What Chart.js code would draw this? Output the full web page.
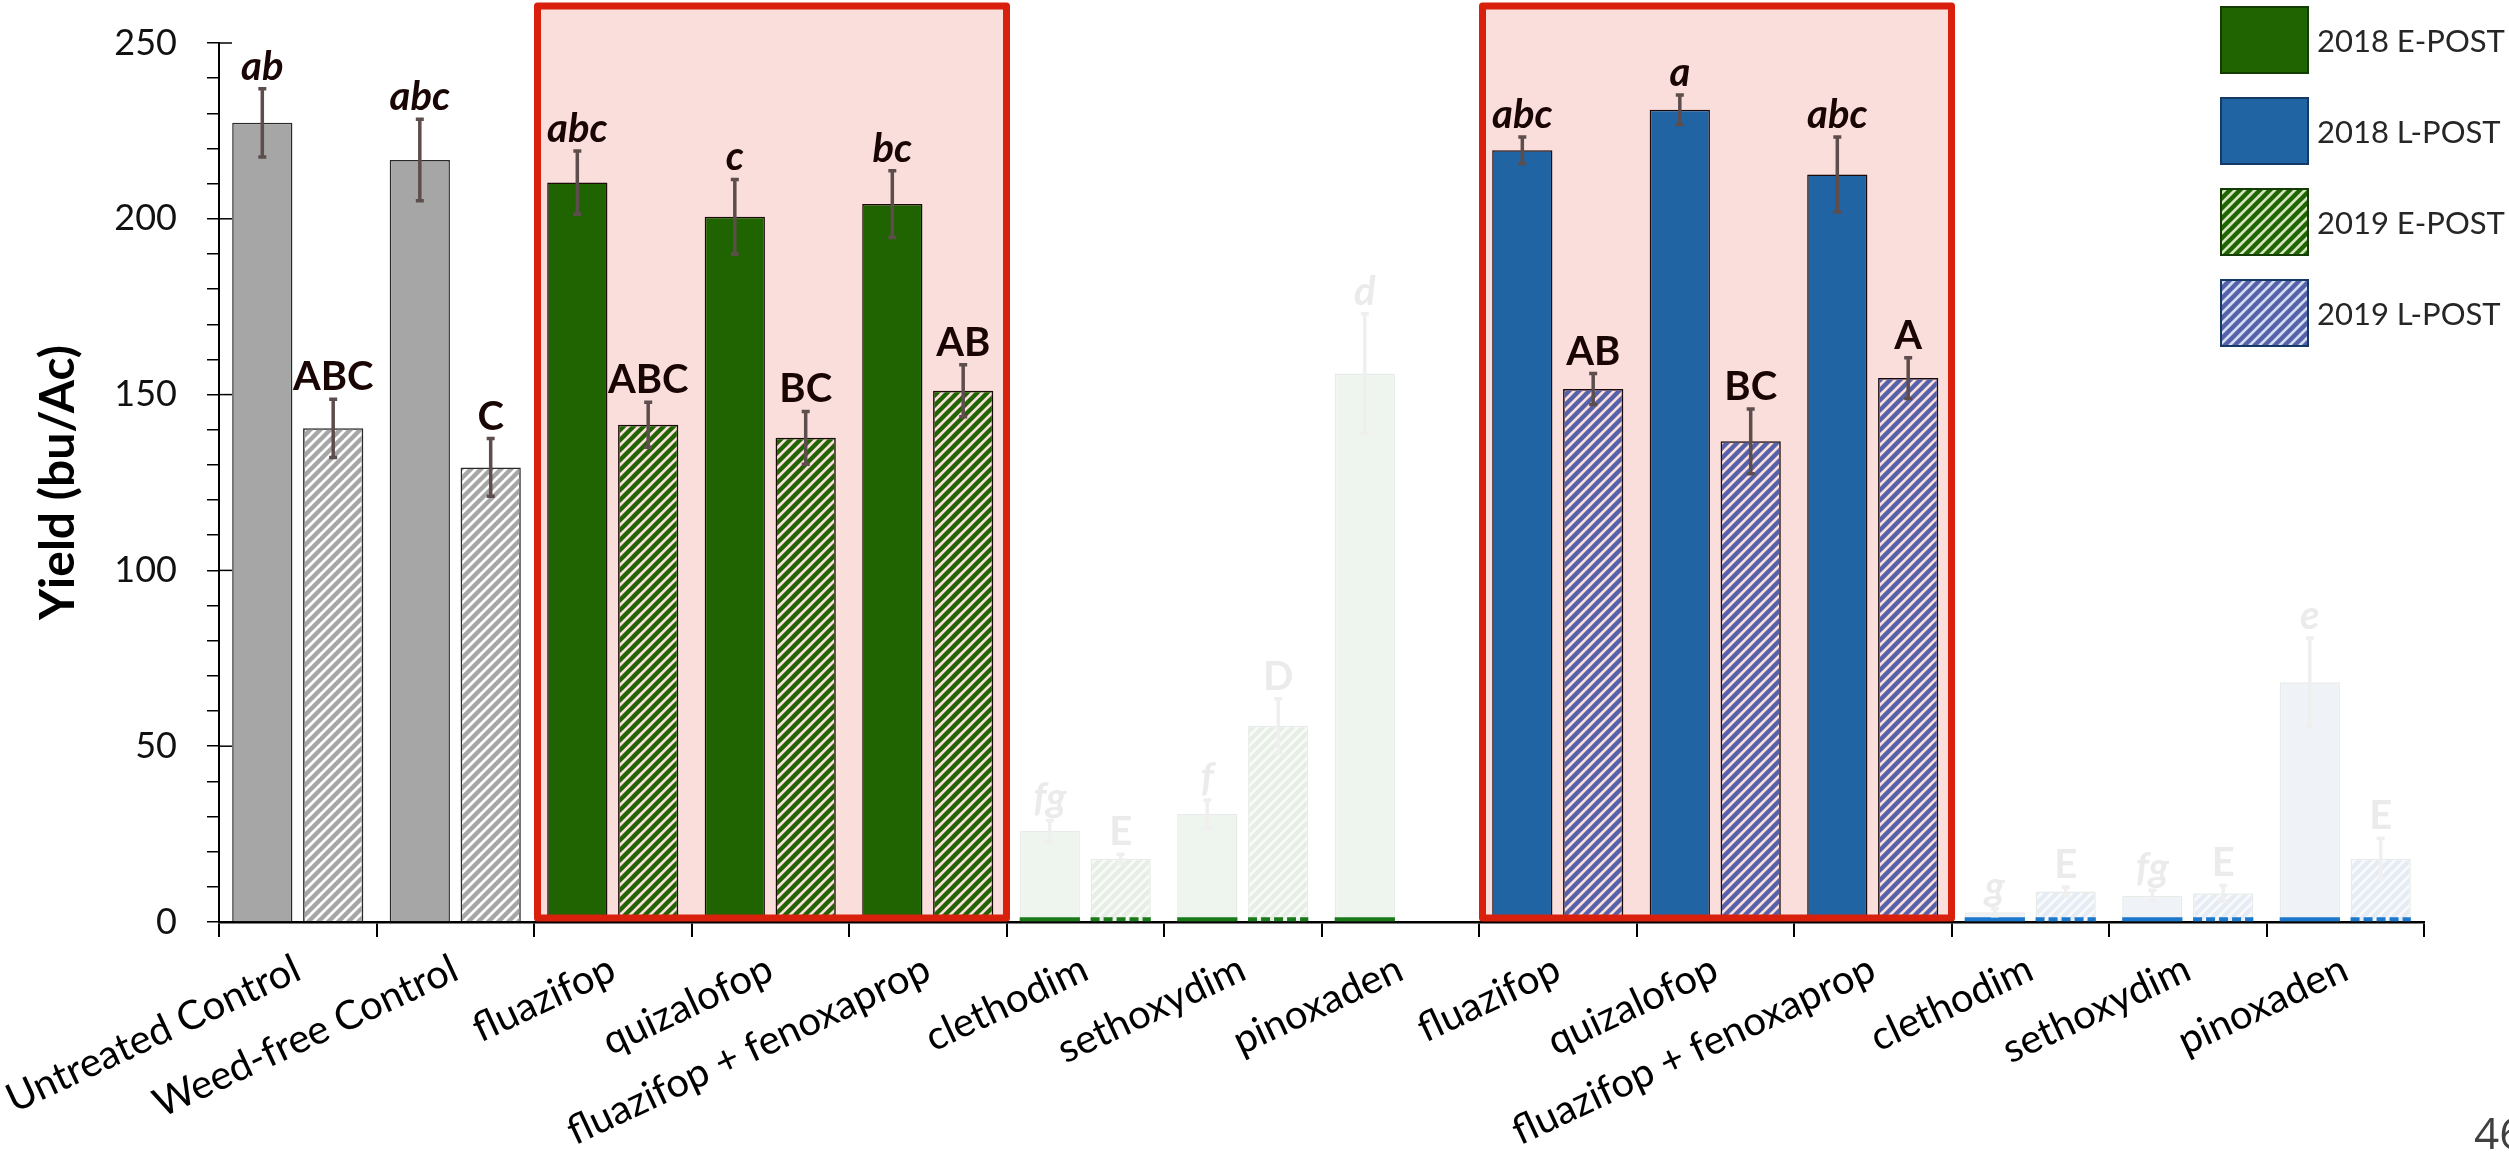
<!DOCTYPE html>
<html>
<head>
<meta charset="utf-8">
<script src="https://cdn.jsdelivr.net/npm/chart.js@4.4.1/dist/chart.umd.min.js"></script>
<style>
  html, body { margin: 0; padding: 0; background: #fff; }
  #wrap { position: relative; width: 2509px; height: 1154px; overflow: hidden; }
  #page { position: absolute; left: 2474px; top: 1110px; font: 44px 'Open Sans'; color: #404040; line-height: 1; }
</style>
</head>
<body>
<div id="wrap">
  <canvas id="chart" width="2509" height="1154"></canvas>
  <div id="page">46</div>
</div>
<script>
// treatments, E-POST block then L-POST block
const categories = ['Untreated Control', 'Weed-free Control', 'fluazifop', 'quizalofop', 'fluazifop + fenoxaprop',
    'clethodim', 'sethoxydim', 'pinoxaden', 'fluazifop', 'quizalofop', 'fluazifop + fenoxaprop',
    'clethodim', 'sethoxydim', 'pinoxaden'];

// yield (bu/Ac)
const yieldE2018 = [227.3, 216.7, 210.3, 200.6, 204.2, 25.9, 30.7, 156.0, null, null, null, null, null, null];
const yieldL2018 = [null, null, null, null, null, null, null, null, 219.5, 231.0, 212.6, 2.8, 7.4, 68.2];
const yieldE2019 = [140.4, 129.3, 141.4, 137.7, 151.1, 18.0, 55.8, 0, null, null, null, null, null, null];
const yieldL2019 = [null, null, null, null, null, null, null, null, 151.6, 136.7, 154.7, 8.7, 8.2, 18.0];

// half length of the error bars
const errE2018 = [9.7, 11.6, 9.0, 10.6, 9.5, 3.0, 4.0, 17.0, null, null, null, null, null, null];
const errL2018 = [null, null, null, null, null, null, null, null, 3.8, 4.2, 10.7, 1.0, 1.6, 12.6];
const errE2019 = [8.3, 8.2, 6.4, 7.5, 7.4, 1.3, 7.7, null, null, null, null, null, null, null];
const errL2019 = [null, null, null, null, null, null, null, null, 4.4, 9.2, 5.8, 1.2, 2.2, 5.8];

// mean separation letters
const lettersE2018 = ['ab', 'abc', 'abc', 'c', 'bc', 'fg', 'f', 'd', '', '', '', '', '', ''];
const lettersL2018 = ['', '', '', '', '', '', '', '', 'abc', 'a', 'abc', 'g', 'fg', 'e'];
const lettersE2019 = ['ABC', 'C', 'ABC', 'BC', 'AB', 'E', 'D', '', '', '', '', '', '', ''];
const lettersL2019 = ['', '', '', '', '', '', '', '', 'AB', 'BC', 'A', 'E', 'E', 'E'];

const yTicks = [0, 50, 100, 150, 200, 250];

// greyed-out treatments and the two highlighted blocks
const dimmed = [false, false, false, false, false, true, true, true, false, false, false, true, true, true];
const highlightGroups = [[2, 4], [8, 10]];

const canvas = document.getElementById('chart');
const ctx = canvas.getContext('2d');

// diagonal "/" stripes
const hatch = (stripe, gap) => {
    const s = 10;
    const tile = document.createElement('canvas');
    tile.width = s;
    tile.height = s;
    const g = tile.getContext('2d');
    if (gap) {
        g.fillStyle = gap;
        g.fillRect(0, 0, s, s);
    }
    g.strokeStyle = stripe;
    g.lineWidth = 4.4;
    g.beginPath();
    g.moveTo(-2, s + 2); g.lineTo(s + 2, -2);
    g.moveTo(-s / 2 - 2, s / 2 + 2); g.lineTo(s / 2 + 2, -s / 2 - 2);
    g.moveTo(s / 2 - 2, s * 1.5 + 2); g.lineTo(s * 1.5 + 2, s / 2 - 2);
    g.stroke();
    return ctx.createPattern(tile, 'repeat');
};

const fills = {
    gray: '#a6a6a6', grayHatch: hatch('#a6a6a6'),
    E: '#1f6400', EHatch: hatch('#1f6400'),
    L: '#2164a4', LHatch: hatch('#5561a8'),
    Edim: '#eef4ee', EdimHatch: hatch('#e6eee6', '#f8fbf8'),
    Ldim: '#eff3f8', LdimHatch: hatch('#e6ecf4', '#f8fafd')
};
const stripColor = { E: '#1a7a1a', L: '#1c78cc' };

const series = [
    { label: '2018 E-POST', values: yieldE2018, errors: errE2018, letters: lettersE2018, kind: 'E', hatched: false },
    { label: '2018 L-POST', values: yieldL2018, errors: errL2018, letters: lettersL2018, kind: 'L', hatched: false },
    { label: '2019 E-POST', values: yieldE2019, errors: errE2019, letters: lettersE2019, kind: 'E', hatched: true },
    { label: '2019 L-POST', values: yieldL2019, errors: errL2019, letters: lettersL2019, kind: 'L', hatched: true }
];

const pickFill = (s, i) => {
    if (i < 2) return s.hatched ? fills.grayHatch : fills.gray;
    const key = s.kind + (dimmed[i] ? 'dim' : '') + (s.hatched ? 'Hatch' : '');
    return fills[key];
};

const datasets = series.map(s => ({
    label: s.label,
    data: s.values,
    skipNull: true,
    backgroundColor: c => pickFill(s, c.dataIndex),
    borderColor: c => dimmed[c.dataIndex] ? '#e8ece8' : (c.dataIndex < 2 ? '#2a2a2a' : '#1c0a0a'),
    borderWidth: c => s.values[c.dataIndex] ? 1.5 : 0
}));

const decor = {
    id: 'decor',
    beforeDatasetsDraw(chart) {
        const { ctx, scales: { x, y } } = chart;
        const half = (x.getPixelForValue(1) - x.getPixelForValue(0)) / 2;
        ctx.save();
        ctx.fillStyle = '#f9dedb';
        highlightGroups.forEach(([a, b]) => {
            const l = x.getPixelForValue(a) - half;
            const r = x.getPixelForValue(b) + half;
            const t = y.getPixelForValue(260.5);
            ctx.fillRect(l + 3, t, r - l - 3, y.getPixelForValue(0) - 4 - t);
        });
        ctx.restore();
    },
    afterDatasetsDraw(chart) {
        const { ctx, scales: { x, y } } = chart;
        ctx.save();
        series.forEach((s, k) => {
            const meta = chart.getDatasetMeta(k);
            meta.data.forEach((bar, i) => {
                const v = s.values[i];
                if (!v) return;
                const faded = dimmed[i];
                const e = s.errors[i] || 0;
                // dark strip at the foot of greyed bars
                if (faded) {
                    ctx.strokeStyle = stripColor[s.kind];
                    ctx.lineWidth = 4;
                    ctx.setLineDash(s.hatched ? [9, 4] : []);
                    ctx.beginPath();
                    ctx.moveTo(bar.x - bar.width / 2, bar.base - 2);
                    ctx.lineTo(bar.x + bar.width / 2, bar.base - 2);
                    ctx.stroke();
                    ctx.setLineDash([]);
                }
                // error bar
                const top = y.getPixelForValue(v + e);
                const bot = y.getPixelForValue(v - e);
                ctx.strokeStyle = faded ? '#efefef' : '#5e4d4d';
                ctx.lineWidth = 3.5;
                ctx.beginPath();
                ctx.moveTo(bar.x, top); ctx.lineTo(bar.x, bot);
                ctx.moveTo(bar.x - 4, top); ctx.lineTo(bar.x + 4, top);
                ctx.moveTo(bar.x - 4, bot); ctx.lineTo(bar.x + 4, bot);
                ctx.stroke();
                // letters
                ctx.fillStyle = faded ? '#ebebeb' : '#1a0505';
                ctx.font = (s.hatched ? '' : 'italic ') + 'bold 40px Lato';
                ctx.textAlign = 'center';
                ctx.textBaseline = 'alphabetic';
                ctx.fillText(s.letters[i], bar.x, top - 9);
            });
        });
        // red frames
        const half = (x.getPixelForValue(1) - x.getPixelForValue(0)) / 2;
        ctx.strokeStyle = '#d8200c';
        ctx.lineWidth = 7;
        ctx.lineJoin = 'round';
        highlightGroups.forEach(([a, b]) => {
            const l = x.getPixelForValue(a) - half + 3.5;
            const r = x.getPixelForValue(b) + half;
            const t = y.getPixelForValue(260.5);
            const btm = y.getPixelForValue(0) - 4;
            ctx.strokeRect(l, t, r - l, btm - t);
        });
        // major ticks cross into the plot
        ctx.strokeStyle = '#000';
        ctx.lineWidth = 1.5;
        yTicks.forEach(v => {
            const py = y.getPixelForValue(v);
            ctx.beginPath();
            ctx.moveTo(x.left, py); ctx.lineTo(x.left + 13, py);
            ctx.stroke();
        });
        ctx.restore();
    },
    afterDraw(chart) {
        const { ctx } = chart;
        ctx.save();
        const bx = chart.width - 288;
        series.forEach((s, k) => {
            const by = 7 + k * 91;
            if (s.hatched) {
                ctx.fillStyle = s.kind === 'E' ? '#d3e6bd' : '#d3ddf2';
                ctx.fillRect(bx, by, 87, 66);
            }
            ctx.fillStyle = s.hatched ? fills[s.kind + 'Hatch'] : fills[s.kind];
            ctx.fillRect(bx, by, 87, 66);
            ctx.strokeStyle = s.kind === 'E' ? '#133d05' : '#163a66';
            ctx.lineWidth = 2;
            ctx.strokeRect(bx, by, 87, 66);
            ctx.fillStyle = '#262626';
            ctx.font = '31px Lato';
            ctx.textAlign = 'left';
            ctx.textBaseline = 'middle';
            ctx.fillText(chart.data.datasets[k].label, bx + 96, by + 35);
        });
        ctx.restore();
    }
};

new Chart(ctx, {
    type: 'bar',
    data: { labels: categories, datasets },
    plugins: [decor],
    options: {
        responsive: false,
        animation: false,
        devicePixelRatio: 1,
        layout: { padding: { top: 43, right: 85, left: 0, bottom: 0 } },
        datasets: { bar: { categoryPercentage: 0.9, barPercentage: 0.85 } },
        plugins: { legend: { display: false }, tooltip: { enabled: false } },
        scales: {
            x: {
                grid: { offset: true, drawOnChartArea: false, color: '#000', tickLength: 15, lineWidth: 2 },
                border: { color: '#000', width: 2.5 },
                ticks: {
                    font: { family: 'Lato', size: 40 },
                    color: '#000',
                    minRotation: 25,
                    maxRotation: 25,
                    autoSkip: false,
                    padding: 8
                },
                // fixed height, and no extra room for the first rotated label
                afterFit: scale => {
                    scale.height = 232;
                    scale.paddingLeft = 0;
                    scale.paddingRight = 0;
                }
            },
            y: {
                min: 0,
                max: 250,
                ticks: {
                    stepSize: 10,
                    autoSkip: false,
                    callback: v => yTicks.includes(v) ? v : '',
                    font: { family: 'Lato', size: 36 },
                    color: '#111',
                    padding: 30
                },
                grid: { drawOnChartArea: false, color: '#000', tickLength: 12, lineWidth: 1.5 },
                border: { color: '#000', width: 2 },
                title: {
                    display: true,
                    text: 'Yield (bu/Ac)',
                    font: { family: 'Lato', size: 48, weight: 'bold' },
                    color: '#000',
                    padding: { top: 30, bottom: 0 }
                },
                afterFit: scale => {
                    scale.width = 219;
                    scale.paddingTop = 0;
                    scale.paddingBottom = 0;
                }
            }
        }
    }
});
</script>
</body>
</html>
